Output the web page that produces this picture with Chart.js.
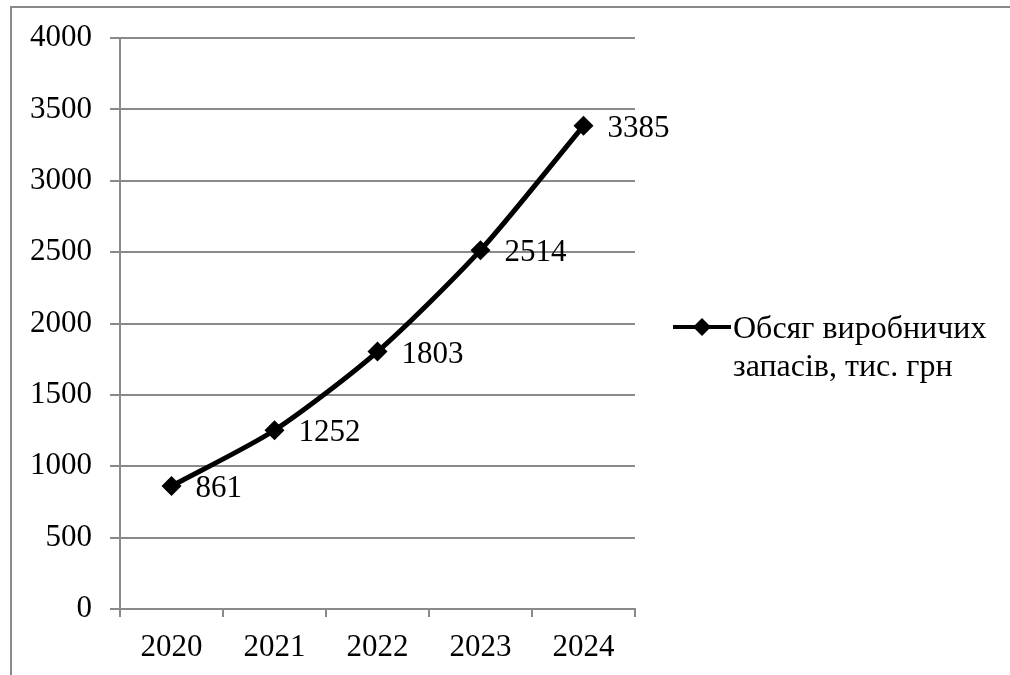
<!DOCTYPE html>
<html>
<head>
<meta charset="utf-8">
<script src="https://cdn.jsdelivr.net/npm/chart.js@4/dist/chart.umd.min.js"></script>
<style>
  html, body { margin: 0; padding: 0; background: #fff; }
  #wrap { width: 1010px; height: 675px; position: relative; }
</style>
</head>
<body>
<div id="wrap"><canvas id="stockChart"></canvas></div>
<script>
const years = ['2020', '2021', '2022', '2023', '2024'];
const stockValues = [861, 1252, 1803, 2514, 3385];
const seriesName = ['Обсяг виробничих', 'запасів, тис. грн'];
const yTicks = [0, 500, 1000, 1500, 2000, 2500, 3000, 3500, 4000];

const FONT = '"Liberation Serif", "Times New Roman", serif';
const GRID = '#8a8a8a';
const FSIZE = 31;

// frame of the chart object (only top and left are visible in the picture)
const framePlugin = {
    id: 'frame',
    beforeDraw(chart) {
        const c = chart.ctx;
        c.save();
        c.strokeStyle = GRID;
        c.lineWidth = 2;
        c.beginPath();
        c.moveTo(11, 700);
        c.lineTo(11, 7);
        c.lineTo(1020, 7);
        c.stroke();
        c.restore();
    }
};

// value labels to the right of each point
const valueLabels = {
    id: 'valueLabels',
    afterDatasetsDraw(chart) {
        const c = chart.ctx;
        const meta = chart.getDatasetMeta(0);
        c.save();
        c.font = FSIZE + 'px ' + FONT;
        c.fillStyle = '#000';
        c.textBaseline = 'middle';
        c.textAlign = 'left';
        meta.data.forEach((pt, i) => {
            c.fillText(String(stockValues[i]), pt.x + 24, pt.y + 3);
        });
        c.restore();
    }
};

// legend on the right, two text lines
const sideLegend = {
    id: 'sideLegend',
    afterDraw(chart) {
        const c = chart.ctx;
        const y = 327;
        c.save();
        c.strokeStyle = '#000';
        c.lineWidth = 4;
        c.beginPath();
        c.moveTo(673, y);
        c.lineTo(731, y);
        c.stroke();
        c.fillStyle = '#000';
        c.beginPath();
        c.moveTo(702, y - 9);
        c.lineTo(711, y);
        c.lineTo(702, y + 9);
        c.lineTo(693, y);
        c.closePath();
        c.fill();
        c.font = '32px ' + FONT;
        c.textBaseline = 'middle';
        c.fillText(seriesName[0], 733, 330);
        c.fillText(seriesName[1], 733, 368);
        c.restore();
    }
};

new Chart(document.getElementById('stockChart'), {
    type: 'line',
    data: {
        labels: years,
        datasets: [{
            label: seriesName.join(' '),
            data: stockValues,
            borderColor: '#000',
            backgroundColor: '#000',
            borderWidth: 5,
            tension: 0.25,
            pointStyle: 'rectRot',
            pointRadius: 10,
            pointBackgroundColor: '#000',
            pointBorderColor: '#000',
            pointBorderWidth: 0
        }]
    },
    options: {
        responsive: true,
        maintainAspectRatio: false,
        animation: false,
        layout: { padding: { left: 0, top: 38, right: 375, bottom: 0 } },
        plugins: {
            legend: { display: false },
            tooltip: { enabled: false }
        },
        scales: {
            x: {
                offset: true,
                grid: {
                    offset: true,
                    drawOnChartArea: false,
                    drawTicks: true,
                    tickLength: 8,
                    color: GRID,
                    lineWidth: 2
                },
                border: { color: GRID, width: 2 },
                ticks: {
                    color: '#000',
                    padding: 12,
                    font: { family: FONT, size: FSIZE }
                },
                afterFit(scale) { scale.height = 66; }
            },
            y: {
                min: 0,
                max: 4000,
                afterBuildTicks(scale) {
                    scale.ticks = yTicks.map(v => ({ value: v }));
                },
                grid: {
                    color: GRID,
                    lineWidth: 2,
                    drawTicks: true,
                    tickLength: 10
                },
                border: { color: GRID, width: 2 },
                ticks: {
                    color: '#000',
                    padding: 18,
                    font: { family: FONT, size: FSIZE },
                    callback: v => String(v)
                },
                afterFit(scale) { scale.width = 120; }
            }
        }
    },
    plugins: [framePlugin, valueLabels, sideLegend]
});
</script>
</body>
</html>
